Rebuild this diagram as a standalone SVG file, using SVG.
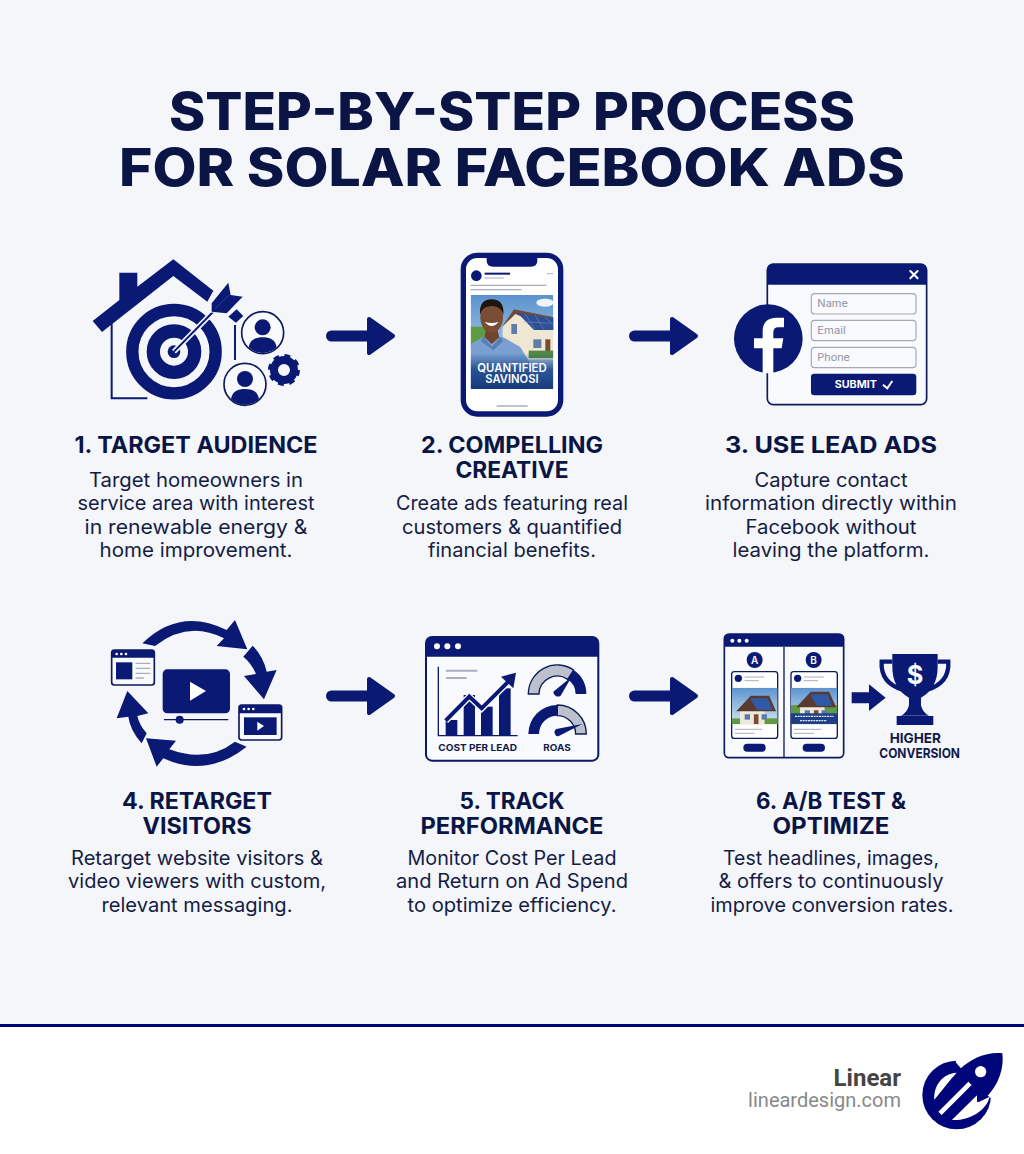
<svg xmlns="http://www.w3.org/2000/svg" xmlns:xlink="http://www.w3.org/1999/xlink" width="1024" height="1154" viewBox="0 0 1024 1154">
<style>
.n{fill:#0a1a74}.w{fill:#fff}.p{fill:#f7f9fd}
.ol{fill:none;stroke:#0a1a74}
.wk{fill:#f8fafd;stroke:#0d1a5c;stroke-width:5}
.g{stroke:#a9afc0;fill:none;stroke-linecap:round}
text{font-family:"Inter","Liberation Sans",sans-serif}
.t{font-size:52px;font-weight:800;fill:#0a1545;text-anchor:middle}
.h{font-size:23px;font-weight:700;fill:#0a1545;text-anchor:middle}
.b{font-size:19.5px;font-weight:400;fill:#141c45;text-anchor:middle}
.lab{font-weight:700;fill:#101a4a;text-anchor:middle}
.fld{font-size:29px;fill:#8d93a3}
</style>
<defs>
<g id="arrow"><path d="M5.5 0H50" stroke="#0a1a74" stroke-width="11" stroke-linecap="round"/><path d="M43 -17L67 0L43 17Z" fill="#0a1a74" stroke="#0a1a74" stroke-width="4" stroke-linejoin="round"/></g>
<g id="person"><circle r="63" fill="#f8fafd" stroke="#0d1a5c" stroke-width="5"/><circle cy="-16" r="24" class="n"/><path d="M-42 44C-38 20-20 14 0 14S38 20 42 44A60 60 0 0 1-42 44Z" class="n"/></g>
<g id="mini-house"><path d="M-32 40V-2L0 -32L32 -2V40Z" fill="#efe9dc"/><path d="M-42 4L-4 -36H44L62 4Z" fill="#5a3a30"/><path d="M-6 -30H40L52 0H12Z" fill="#2f5aa8"/><rect x="-20" y="12" width="14" height="14" fill="#5c7aa8"/><rect x="4" y="12" width="12" height="26" fill="#7b4a33"/><rect x="24" y="12" width="14" height="14" fill="#5c7aa8"/></g>
<linearGradient id="sky" x1="0" y1="0" x2="0" y2="1"><stop offset="0" stop-color="#5b93cf"/><stop offset="1" stop-color="#d5e6f2"/></linearGradient>
<linearGradient id="fade" x1="0" y1="0" x2="0" y2="1"><stop offset="0" stop-color="#1d4a8c" stop-opacity="0"/><stop offset=".45" stop-color="#1d4a8c" stop-opacity=".9"/><stop offset="1" stop-color="#163a7c"/></linearGradient>
<clipPath id="photo"><rect x="92" y="165" width="248" height="282"/></clipPath>
<clipPath id="pa"><rect x="50" y="188" width="138" height="110"/></clipPath>
<clipPath id="pb"><rect x="228" y="188" width="139" height="110"/></clipPath>
</defs>

<rect width="1024" height="1154" fill="#f4f6fa"/>
<g id="title">
<text class="t" x="512" y="130" textLength="686" lengthAdjust="spacingAndGlyphs">STEP-BY-STEP PROCESS</text>
<text class="t" x="512" y="186" textLength="786" lengthAdjust="spacingAndGlyphs">FOR SOLAR FACEBOOK ADS</text>
</g>

<g id="connectors">
<use xlink:href="#arrow" href="#arrow" x="326" y="336"/>
<use xlink:href="#arrow" href="#arrow" x="629" y="336"/>
<use xlink:href="#arrow" href="#arrow" x="326" y="696"/>
<use xlink:href="#arrow" href="#arrow" x="629" y="696"/>
</g>

<g id="step-1">
<g transform="translate(80 240) scale(.3333)">
<path class="n" d="M38 243L118 180V98H172V140L280 58L400 152L382 185L280 108L66 276Z"/>
<path class="ol" stroke-width="6" d="M95 250V475H202M465 255V360"/>
<path class="n" d="M445 230L470 208L490 228L468 248Z"/>
<circle cx="282" cy="335" r="125" class="ol" stroke-width="37"/>
<circle cx="282" cy="335" r="62" class="ol" stroke-width="40"/>
<circle cx="282" cy="335" r="19" class="n"/>
<path d="M282 335L410 205" stroke="#f4f6fa" stroke-width="16"/>
<path d="M282 335L410 205" stroke="#0a1a74" stroke-width="6"/>
<path class="n" stroke="#f4f6fa" stroke-width="5" paint-order="stroke" d="M395 190L445 128L452 165L488 170L440 220L395 215Z"/>
<path d="M405 207L450 163" stroke="#3a4a9a" stroke-width="2"/>
<use xlink:href="#person" href="#person" x="548" y="278"/>
<use xlink:href="#person" href="#person" x="495" y="433"/>
<circle cx="612" cy="390" r="30" class="ol" stroke-width="24"/>
<circle cx="612" cy="390" r="42" class="ol" stroke-width="12" stroke-dasharray="17 15.98"/>
</g>
<text class="h" x="196" y="453" textLength="243" lengthAdjust="spacingAndGlyphs">1. TARGET AUDIENCE</text>
<text class="b" x="196" y="487" textLength="214" lengthAdjust="spacingAndGlyphs">Target homeowners in</text>
<text class="b" x="196" y="510" textLength="237" lengthAdjust="spacingAndGlyphs">service area with interest</text>
<text class="b" x="196" y="534" textLength="223" lengthAdjust="spacingAndGlyphs">in renewable energy &amp;</text>
<text class="b" x="196" y="557" textLength="193" lengthAdjust="spacingAndGlyphs">home improvement.</text>
</g>

<g id="step-2">
<g transform="translate(440 240) scale(.3333)">
<rect x="70" y="46" width="292" height="476" rx="42" fill="#fff" stroke="#0a1a74" stroke-width="16"/>
<path class="n" d="M140 50H292V62Q292 80 272 80H160Q140 80 140 62Z"/>
<circle cx="109" cy="107" r="16" class="n"/>
<path d="M134 101H210" stroke="#0a1a74" stroke-width="6"/>
<path class="g" stroke-width="3" d="M134 114H190M322 101H338"/>
<path class="g" stroke-width="4" d="M93 136H318M93 149H243"/>
<g clip-path="url(#photo)">
<rect x="92" y="165" width="248" height="282" fill="url(#sky)"/>
<ellipse cx="315" cy="188" rx="26" ry="12" fill="#eef4fa"/>
<rect x="92" y="260" width="60" height="60" fill="#5f9a45"/>
<path d="M188 360V260L222 215L340 270V360Z" fill="#efe6d4"/>
<path d="M185 262L222 208L345 232V272L226 222Z" fill="#6e4b3a"/>
<path d="M232 218L340 235V270L282 270Z" fill="#2d4f96"/>
<path d="M255 222L285 268M285 226L312 268M315 232L340 255M250 245L330 250" stroke="#7f9ad0" stroke-width="1.5" fill="none"/>
<rect x="214" y="252" width="17" height="30" fill="#5a7fad"/>
<rect x="280" y="298" width="24" height="26" fill="#5f7fa6"/>
<rect x="316" y="298" width="15" height="40" fill="#7b4a33"/>
<rect x="266" y="332" width="74" height="22" fill="#4f8a42"/>
<path d="M92 312L128 292L155 290L190 292L240 320L268 365V447H92Z" fill="#7a9fd0"/>
<path d="M134 292L155 312L178 292L172 268H138Z" fill="#704530"/>
<path d="M130 290L156 320L182 290L190 304L160 330L122 304Z" fill="#587fb4"/>
<ellipse cx="155" cy="232" rx="34" ry="46" fill="#7a4e34"/>
<path d="M120 225Q116 178 155 178Q194 178 190 225Q186 200 155 198Q124 200 120 225Z" fill="#1e1410"/>
<path d="M134 246Q155 270 176 246Q155 252 134 246Z" fill="#fff"/>
<rect x="92" y="340" width="248" height="107" fill="url(#fade)"/>
</g>
<text x="216" y="397" text-anchor="middle" font-size="36" font-weight="600" fill="#fff" textLength="208" lengthAdjust="spacingAndGlyphs">QUANTIFIED</text>
<text x="216" y="430" text-anchor="middle" font-size="36" font-weight="600" fill="#fff" textLength="160" lengthAdjust="spacingAndGlyphs">SAVINOSI</text>
<path class="g" stroke-width="5" d="M172 498H261"/>
</g>
<text class="h" x="512" y="453" textLength="182" lengthAdjust="spacingAndGlyphs">2. COMPELLING</text>
<text class="h" x="512" y="478" textLength="113" lengthAdjust="spacingAndGlyphs">CREATIVE</text>
<text class="b" x="512" y="510" textLength="232" lengthAdjust="spacingAndGlyphs">Create ads featuring real</text>
<text class="b" x="512" y="534" textLength="220" lengthAdjust="spacingAndGlyphs">customers &amp; quantified</text>
<text class="b" x="512" y="557" textLength="168" lengthAdjust="spacingAndGlyphs">financial benefits.</text>
</g>

<g id="step-3">
<g transform="translate(620 250) scale(.3333)">
<rect x="442" y="42" width="478" height="422" rx="18" fill="#f8fafd" stroke="#0d1a5c" stroke-width="5"/>
<path class="n" d="M442 104V60Q442 42 460 42H902Q920 42 920 60V104Z"/>
<path d="M871 63L893 85M893 63L871 85" stroke="#fff" stroke-width="6" stroke-linecap="round"/>
<circle cx="445" cy="266" r="103" class="n"/>
<path class="w" d="M428 370V295H402V265H428V245Q428 203 470 203H492V232H475Q460 232 460 248V265H490L485 295H460V370Z"/>
<g fill="#f8fafd" stroke="#a3a9ba" stroke-width="3.5">
<rect x="574" y="131" width="314" height="61" rx="10"/>
<rect x="574" y="211" width="314" height="61" rx="10"/>
<rect x="574" y="292" width="314" height="61" rx="10"/>
</g>
<text class="fld" x="592" y="172" textLength="92" lengthAdjust="spacingAndGlyphs">Name</text>
<text class="fld" x="592" y="253" textLength="85" lengthAdjust="spacingAndGlyphs">Email</text>
<text class="fld" x="592" y="333" textLength="98" lengthAdjust="spacingAndGlyphs">Phone</text>
<rect x="573" y="371" width="316" height="65" rx="10" class="n"/>
<text x="644" y="415" font-size="29" font-weight="700" fill="#fff" textLength="127" lengthAdjust="spacingAndGlyphs">SUBMIT</text>
<path d="M789 404L802 415L817 393" fill="none" stroke="#fff" stroke-width="6"/>
</g>
<text class="h" x="831" y="453" textLength="212" lengthAdjust="spacingAndGlyphs">3. USE LEAD ADS</text>
<text class="b" x="831" y="487" textLength="153" lengthAdjust="spacingAndGlyphs">Capture contact</text>
<text class="b" x="831" y="510" textLength="252" lengthAdjust="spacingAndGlyphs">information directly within</text>
<text class="b" x="831" y="534" textLength="171" lengthAdjust="spacingAndGlyphs">Facebook without</text>
<text class="b" x="831" y="557" textLength="197" lengthAdjust="spacingAndGlyphs">leaving the platform.</text>
</g>

<g id="step-4">
<g transform="translate(100 610) scale(.3333)">
<path class="n" d="M127 100Q240 -10 380 60L405 30L442 118L350 108L372 85Q265 30 165 108Z"/>
<path class="n" d="M458 107Q490 140 500 185L530 180L492 268L432 198L468 192Q455 160 430 140Z"/>
<path class="n" d="M440 410Q320 505 190 445L170 470L138 385L228 392L208 418Q320 460 405 395Z"/>
<path class="n" d="M125 400Q90 360 85 320L50 325L82 243L145 310L112 318Q118 345 140 370Z"/>
<rect x="35" y="120" width="128" height="105" rx="8" class="wk"/>
<path class="n" d="M35 143V128Q35 120 43 120H155Q163 120 163 128V143Z"/>
<g class="w"><circle cx="50" cy="132" r="4"/><circle cx="64" cy="132" r="4"/><circle cx="78" cy="132" r="4"/></g>
<rect x="48" y="157" width="49" height="51" class="n"/>
<path class="g" stroke-width="4" d="M108 160H150M108 175H150M108 190H150M108 204H130"/>
<rect x="188" y="178" width="202" height="132" rx="14" class="n"/>
<path class="w" d="M270 215V272L318 243Z"/>
<path d="M192 329H385" stroke="#0d1a5c" stroke-width="4"/>
<circle cx="239" cy="329" r="12" class="n"/>
<rect x="417" y="285" width="128" height="105" rx="8" class="wk"/>
<path class="n" d="M417 310V293Q417 285 425 285H537Q545 285 545 293V310Z"/>
<g class="w"><circle cx="432" cy="297" r="4"/><circle cx="446" cy="297" r="4"/><circle cx="460" cy="297" r="4"/></g>
<rect x="432" y="322" width="98" height="53" class="n"/>
<path class="w" d="M472 335V362L492 348Z"/>
</g>
<text class="h" x="197" y="809" textLength="150" lengthAdjust="spacingAndGlyphs">4. RETARGET</text>
<text class="h" x="197" y="834" textLength="109" lengthAdjust="spacingAndGlyphs">VISITORS</text>
<text class="b" x="197" y="865" textLength="252" lengthAdjust="spacingAndGlyphs">Retarget website visitors &amp;</text>
<text class="b" x="197" y="888" textLength="258" lengthAdjust="spacingAndGlyphs">video viewers with custom,</text>
<text class="b" x="197" y="912" textLength="191" lengthAdjust="spacingAndGlyphs">relevant messaging.</text>
</g>

<g id="step-5">
<g transform="translate(415 625) scale(.3333)">
<rect x="33" y="36" width="517" height="371" rx="18" fill="#f8fafd" stroke="#0d1a5c" stroke-width="6"/>
<path class="n" d="M33 95V54Q33 36 51 36H532Q550 36 550 54V95Z"/>
<g class="w"><circle cx="66" cy="64" r="9"/><circle cx="97" cy="64" r="9"/><circle cx="129" cy="64" r="9"/></g>
<path class="ol" stroke-width="4" d="M70 125V332H308"/>
<path class="g" stroke-width="6" d="M95 137H185M95 159H153"/>
<rect x="92" y="285" width="35" height="46" class="n"/>
<rect x="146" y="210" width="34" height="121" class="n"/>
<rect x="198" y="245" width="35" height="86" class="n"/>
<rect x="252" y="190" width="35" height="141" class="n"/>
<path d="M92 287L163 215L200 250L285 165" fill="none" stroke="#f8fafd" stroke-width="20"/>
<path d="M92 287L163 215L200 250L285 165" fill="none" stroke="#0a1a74" stroke-width="12"/>
<path class="n" d="M258 155L303 143L295 190Z"/>
<path d="M340 207A87 87 0 0 1 476 135L458 163A55 55 0 0 0 372 207Z" fill="#bcc1cc" stroke="#0d1a5c" stroke-width="4"/>
<path class="n" d="M476 135A87 87 0 0 1 514 207H482A55 55 0 0 0 458 163Z"/>
<path class="n" d="M415 200L470 155L437 212A14 14 0 0 1 415 200Z"/>
<path class="n" d="M340 327A87 87 0 0 1 427 240V272A55 55 0 0 0 372 327Z"/>
<path d="M427 240A87 87 0 0 1 514 327H482A55 55 0 0 0 427 272Z" fill="#bcc1cc" stroke="#0d1a5c" stroke-width="4"/>
<path class="n" d="M424 312L502 297L430 334A12 12 0 0 1 424 312Z"/>
<text class="lab" x="188" y="377" font-size="27" textLength="236" lengthAdjust="spacingAndGlyphs">COST PER LEAD</text>
<text class="lab" x="426" y="377" font-size="27" textLength="82" lengthAdjust="spacingAndGlyphs">ROAS</text>
</g>
<text class="h" x="512" y="809" textLength="105" lengthAdjust="spacingAndGlyphs">5. TRACK</text>
<text class="h" x="512" y="834" textLength="183" lengthAdjust="spacingAndGlyphs">PERFORMANCE</text>
<text class="b" x="512" y="865" textLength="209" lengthAdjust="spacingAndGlyphs">Monitor Cost Per Lead</text>
<text class="b" x="512" y="888" textLength="232" lengthAdjust="spacingAndGlyphs">and Return on Ad Spend</text>
<text class="b" x="512" y="912" textLength="209" lengthAdjust="spacingAndGlyphs">to optimize efficiency.</text>
</g>

<g id="step-6">
<g transform="translate(715 625) scale(.3333)">
<rect x="28" y="27" width="358" height="371" rx="14" fill="#f8fafd" stroke="#0d1a5c" stroke-width="5"/>
<path class="n" d="M28 65V41Q28 27 42 27H372Q386 27 386 41V65Z"/>
<g class="w"><circle cx="52" cy="47" r="6"/><circle cx="73" cy="47" r="6"/><circle cx="95" cy="47" r="6"/></g>
<path d="M207 65V398" stroke="#0d1a5c" stroke-width="4"/>
<circle cx="119" cy="105" r="24" class="n"/><circle cx="296" cy="105" r="24" class="n"/>
<text x="119" y="116" font-size="30" font-weight="600" fill="#fff" text-anchor="middle">A</text>
<text x="296" y="116" font-size="30" font-weight="600" fill="#fff" text-anchor="middle">B</text>
<rect x="50" y="140" width="138" height="200" rx="8" fill="#fff" stroke="#0d1a5c" stroke-width="4"/>
<rect x="228" y="140" width="139" height="200" rx="8" fill="#fff" stroke="#0d1a5c" stroke-width="4"/>
<circle cx="70" cy="160" r="11" class="n"/><circle cx="248" cy="160" r="11" class="n"/>
<path class="g" stroke-width="3" d="M90 156H147M90 167H130M268 156H325M268 167H308M60 313H140M60 325H118M238 313H318M238 325H296"/>
<g clip-path="url(#pa)">
<rect x="50" y="188" width="138" height="110" fill="url(#sky)"/>
<rect x="50" y="280" width="138" height="18" fill="#5f9a45"/>
<use xlink:href="#mini-house" href="#mini-house" transform="translate(112 254) scale(1.15)"/>
</g>
<g clip-path="url(#pb)">
<rect x="228" y="188" width="139" height="110" fill="url(#sky)"/>
<rect x="228" y="240" width="139" height="30" fill="#5f9a45"/>
<use xlink:href="#mini-house" href="#mini-house" transform="translate(292 242) scale(1.15)"/>
<rect x="228" y="265" width="139" height="33" fill="#1e3f86"/>
<path d="M240 274H356M255 287H336" stroke="#dfe6f3" stroke-width="4" stroke-dasharray="6 2" fill="none"/>
</g>
<rect x="85" y="356" width="67" height="24" rx="12" class="n"/>
<rect x="263" y="356" width="67" height="24" rx="12" class="n"/>
<path class="n" d="M410 202H462V178L512 218L462 258V235H410Z"/>
<path class="ol" stroke-width="13" d="M532 110H500Q496 175 565 195M668 110H700Q704 175 635 195"/>
<path class="n" d="M532 87H668V125Q668 190 618 218V240Q622 262 642 272H558Q578 262 582 240V218Q532 190 532 125Z"/>
<rect x="545" y="273" width="110" height="27" class="n"/>
<text x="600" y="176" text-anchor="middle" font-size="76" font-weight="700" fill="#fff">$</text>
<text class="lab" x="601" y="355" font-size="41" textLength="154" lengthAdjust="spacingAndGlyphs">HIGHER</text>
<text class="lab" x="614" y="399" font-size="41" textLength="242" lengthAdjust="spacingAndGlyphs">CONVERSION</text>
</g>
<text class="h" x="831" y="809" textLength="150" lengthAdjust="spacingAndGlyphs">6. A/B TEST &amp;</text>
<text class="h" x="831" y="834" textLength="117" lengthAdjust="spacingAndGlyphs">OPTIMIZE</text>
<text class="b" x="831" y="865" textLength="216" lengthAdjust="spacingAndGlyphs">Test headlines, images,</text>
<text class="b" x="831" y="888" textLength="225" lengthAdjust="spacingAndGlyphs">&amp; offers to continuously</text>
<text class="b" x="832" y="912" textLength="243" lengthAdjust="spacingAndGlyphs">improve conversion rates.</text>
</g>

<g id="footer">
<rect y="1024" width="1024" height="130" fill="#fff"/>
<rect y="1024" width="1024" height="3" fill="#00057a"/>
<text x="901" y="1086" text-anchor="end" font-size="24" font-weight="700" fill="#444" style="font-family:Roboto,sans-serif">Linear</text>
<text x="901" y="1107" text-anchor="end" font-size="20" fill="#888" style="font-family:Roboto,sans-serif">lineardesign.com</text>
<g transform="translate(915 1045) scale(.3333)">
<circle cx="125" cy="150" r="103" fill="#00057a"/>
<path fill="#fff" d="M122 52L140 10H280V175L226 158L190 130Z"/>
<path fill="#fff" d="M58 165C55 120 85 85 125 83L112 98Z"/>
<path fill="#fff" d="M110 225C165 228 215 195 224 155L190 172L186 150Z"/>
<path fill="#00057a" d="M262 25C215 20 170 40 135 72L122 95L138 92L186 152V172L218 152C250 120 268 70 262 25Z"/>
<path fill="#00057a" d="M112 98L58 165L110 225L186 150L138 92Z"/>
<circle cx="197" cy="80" r="17" fill="#fff"/>
<path d="M75 205L165 115" stroke="#fff" stroke-width="14"/>
</g>
</g>
</svg>
